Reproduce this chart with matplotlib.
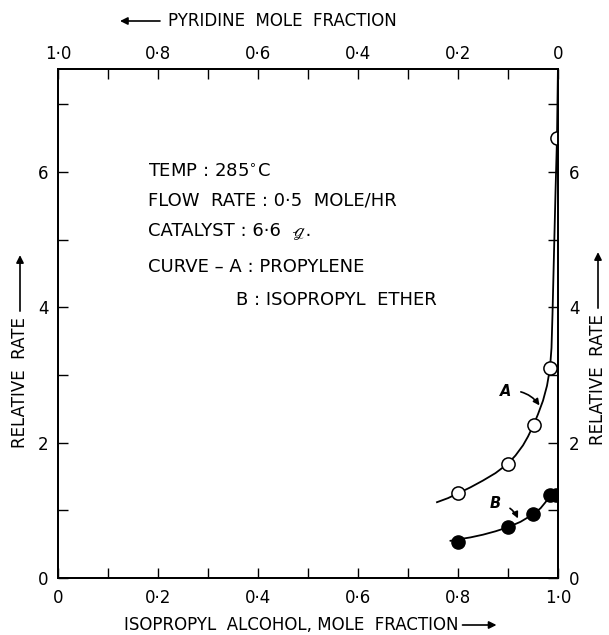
import matplotlib
matplotlib.use("Agg")
import matplotlib.pyplot as plt
from matplotlib.ticker import FixedLocator, FixedFormatter

# Dades llegides del gràfic
# punts mesurats (cercles)
xa_pts = [0.80, 0.90, 0.951, 0.984, 0.998]
ya_pts = [1.25, 1.69, 2.26, 3.10, 6.50]
xb_pts = [0.80, 0.90, 0.95, 0.983, 0.996]
yb_pts = [0.53, 0.75, 0.94, 1.23, 1.23]

# traç de les corbes dibuixades a mà
xa_curve = [0.758, 0.78, 0.80, 0.825, 0.85, 0.875, 0.90, 0.915, 0.93, 0.94, 0.951,
            0.96, 0.97, 0.978, 0.984, 0.987, 0.989, 0.991, 0.993, 0.995, 0.998, 1.0]
ya_curve = [1.12, 1.18, 1.25, 1.34, 1.44, 1.55, 1.69, 1.81, 1.96, 2.09, 2.26,
            2.42, 2.62, 2.84, 3.10, 3.40, 3.90, 4.50, 5.10, 5.70, 6.50, 7.60]
xb_curve = [0.785, 0.80, 0.825, 0.85, 0.875, 0.90, 0.925, 0.95, 0.965, 0.975, 0.983, 0.99, 1.0]
yb_curve = [0.55, 0.57, 0.60, 0.64, 0.69, 0.75, 0.83, 0.94, 1.03, 1.12, 1.20, 1.24, 1.25]

# etiquetes dels eixos
x_ticks = [0.0, 0.1, 0.2, 0.3, 0.4, 0.5, 0.6, 0.7, 0.8, 0.9, 1.0]
x_labels = ['0', '', '0·2', '', '0·4', '', '0·6', '', '0·8', '', '1·0']
top_labels = ['1·0', '', '0·8', '', '0·6', '', '0·4', '', '0·2', '', '0']
y_ticks = [0, 1, 2, 3, 4, 5, 6, 7]
y_labels = ['0', '', '2', '', '4', '', '6', '']

info_lines = ['TEMP : 285$^{\\circ}$C',
              'FLOW  RATE : 0·5  MOLE/HR',
              'CATALYST : 6·6  ℊ.']
curve_lines = ['CURVE – A : PROPYLENE',
               'B : ISOPROPYL  ETHER']

plt.rcParams['font.family'] = ['DejaVu Sans', 'STIXGeneral']
fs = 12

fig = plt.figure(figsize=(6.09, 6.35), dpi=100)
ax = fig.add_axes([58/609, 57/635, 500/609, 509/635])
ax.set_xlim(0, 1)
ax.set_ylim(0, 7.52)

# corbes
ax.plot(xa_curve, ya_curve, color='k', lw=1.3)
ax.plot(xb_curve, yb_curve, color='k', lw=1.3)
ax.plot(xa_pts, ya_pts, 'o', ms=9.5, mfc='white', mec='k', mew=1.1, zorder=3)
ax.plot(xb_pts, yb_pts, 'o', ms=9.5, mfc='k', mec='k', zorder=3)

# eix inferior i esquerre
ax.xaxis.set_major_locator(FixedLocator(x_ticks))
ax.xaxis.set_major_formatter(FixedFormatter(x_labels))
ax.yaxis.set_major_locator(FixedLocator(y_ticks))
ax.yaxis.set_major_formatter(FixedFormatter(y_labels))
ax.tick_params(axis='x', direction='in', length=7, width=1, labelsize=fs, pad=8)
ax.tick_params(axis='y', direction='in', length=7, width=1, labelsize=fs, pad=7)

# eix superior (piridina)
ax2 = ax.twiny()
ax2.set_xlim(0, 1)
ax2.xaxis.set_major_locator(FixedLocator(x_ticks))
ax2.xaxis.set_major_formatter(FixedFormatter(top_labels))
ax2.tick_params(axis='x', direction='in', length=7, width=1, labelsize=fs, pad=4)

# eix dret
ax3 = ax.twinx()
ax3.set_ylim(0, 7.52)
ax3.yaxis.set_major_locator(FixedLocator(y_ticks))
ax3.yaxis.set_major_formatter(FixedFormatter(y_labels))
ax3.tick_params(axis='y', direction='in', length=7, width=1, labelsize=fs, pad=8)

for a in (ax, ax2, ax3):
    for s in a.spines.values():
        s.set_linewidth(1.2)

# text informatiu
ys = [6.0, 5.57, 5.14]
for t, yy in zip(info_lines, ys):
    ax.text(0.18, yy, t, fontsize=13, va='center', ha='left')
ax.text(0.18, 4.59, curve_lines[0], fontsize=13, va='center', ha='left')
ax.text(0.355, 4.11, curve_lines[1], fontsize=13, va='center', ha='left')

# anotacions A i B
ax.annotate('A', xy=(0.963, 2.55), xytext=(0.895, 2.76), fontsize=10.5,
            fontweight='bold', style='italic', va='center', ha='center',
            arrowprops=dict(arrowstyle='-|>', color='k', lw=1.2, mutation_scale=9,
                            connectionstyle='arc3,rad=-0.3', shrinkA=5, shrinkB=0))
ax.annotate('B', xy=(0.92, 0.88), xytext=(0.875, 1.10), fontsize=10.5,
            fontweight='bold', style='italic', va='center', ha='center',
            arrowprops=dict(arrowstyle='-|>', color='k', lw=1.2, mutation_scale=9,
                            connectionstyle='arc3,rad=-0.3', shrinkA=5, shrinkB=0))

# títols dels eixos
W, H = 609.0, 635.0
tb = fig.text(124/W, 1 - 625/H, 'ISOPROPYL  ALCOHOL, MOLE  FRACTION', fontsize=fs,
              va='center', ha='left')
tt = fig.text(168/W, 1 - 21/H, 'PYRIDINE  MOLE  FRACTION', fontsize=fs,
              va='center', ha='left')
tl = fig.text(20/W, 1 - 448/H, 'RELATIVE  RATE', fontsize=fs, rotation=90,
              va='bottom', ha='center')
tr = fig.text(598/W, 1 - 445/H, 'RELATIVE  RATE', fontsize=fs, rotation=90,
              va='bottom', ha='center')

# fletxes enganxades als títols
fig.canvas.draw()
arr = dict(arrowstyle='-|>', color='k', lw=1.2, mutation_scale=11, shrinkA=0, shrinkB=0)
bb = tb.get_window_extent()
yc = (bb.y0 + bb.y1) / 2 / H
fig.add_artist(plt.matplotlib.patches.FancyArrowPatch(
    ((bb.x1 + 4) / W, yc), ((bb.x1 + 38) / W, yc), transform=fig.transFigure, **arr))
bb = tt.get_window_extent()
yc = (bb.y0 + bb.y1) / 2 / H
fig.add_artist(plt.matplotlib.patches.FancyArrowPatch(
    ((bb.x0 - 8) / W, yc), ((bb.x0 - 48) / W, yc), transform=fig.transFigure, **arr))
for t in (tl, tr):
    bb = t.get_window_extent()
    xc = (bb.x0 + bb.x1) / 2 / W
    fig.add_artist(plt.matplotlib.patches.FancyArrowPatch(
        (xc, (bb.y1 + 6) / H), (xc, (bb.y1 + 62) / H), transform=fig.transFigure, **arr))

plt.savefig('out.png', dpi=100)
